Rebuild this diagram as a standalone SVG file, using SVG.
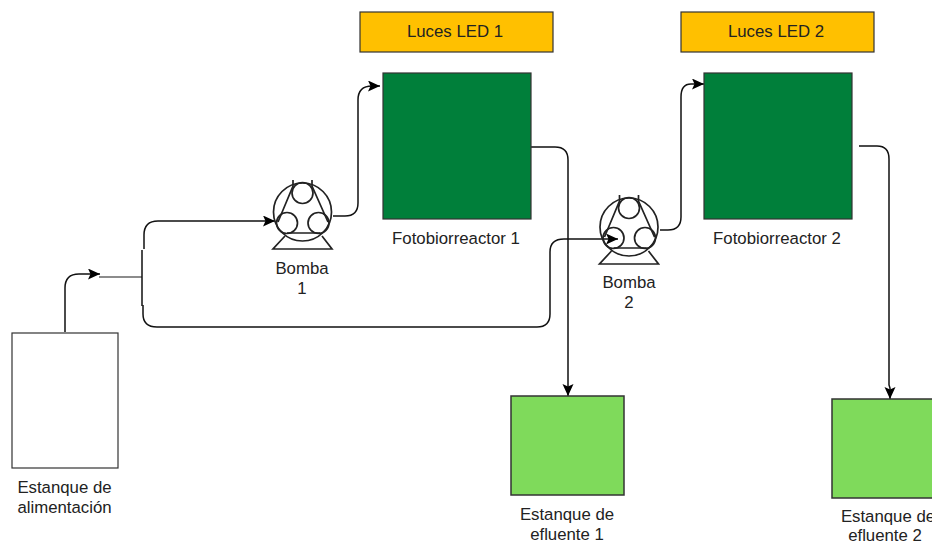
<svg xmlns="http://www.w3.org/2000/svg" width="932" height="545" viewBox="0 0 932 545">
<defs>
<marker id="arr" markerUnits="userSpaceOnUse" markerWidth="15" markerHeight="13" refX="12" refY="5.500" orient="auto"><path d="M0 0L12 5.500L0 11L2.500 5.500Z" fill="#000"/></marker>
<g id="pump" fill="none" stroke="#222" stroke-width="1.7">
<circle cx="302.500" cy="212" r="29"/><circle cx="302.500" cy="193" r="10.500"/><circle cx="287" cy="223" r="10.500"/><circle cx="318.500" cy="223" r="10.500"/>
<path d="M293 180V186L278 222M312 180V186L328 222M287 233H320M285 236L273 249H332L322 236"/>
</g>
</defs>
<style>
text{font-family:"Liberation Sans",Arial,sans-serif;font-size:16.800px;fill:#222;text-anchor:middle}
.c{fill:none;stroke:#111;stroke-width:1.5}
.l{fill:#ffc000;stroke:#333;stroke-width:1.2}
.r{fill:#007f3a;stroke:#333;stroke-width:1.2}
.e{fill:#7fda5b;stroke:#333;stroke-width:1.500}
</style>
<g id="connectors">
<path class="c" marker-end="url(#arr)" d="M65 332V288Q65 274 79 274H100"/>
<path class="c" style="stroke:#666" d="M99 277H142"/>
<path class="c" d="M142 277V250M142 277V306"/>
<path class="c" marker-end="url(#arr)" d="M144 249V235Q144 221 158 221H275"/>
<path class="c" marker-end="url(#arr)" d="M143 305V314Q143 327 157 327H537Q550 327 550 314V252Q550 239 564 239H618"/>
<path class="c" marker-end="url(#arr)" d="M333 216H345Q358 216 358 203V100Q358 86 372 86H380"/>
<path class="c" marker-end="url(#arr)" d="M660 230H668Q681 230 681 217V97Q681 84 691 84H704"/>
<path class="c" marker-end="url(#arr)" d="M531 147H555Q568 147 568 160V396"/>
<path class="c" marker-end="url(#arr)" d="M859 146H877Q889 146 889 159V385L890 388V399"/>
</g>
<g id="tank-feed"><rect x="12" y="333" width="106" height="135" fill="#fff" stroke="#333" stroke-width="1.200"/><text x="64.500" y="493">Estanque de</text><text x="64.500" y="513">alimentación</text></g>
<g id="pump-1"><use href="#pump"/><text x="302" y="274">Bomba</text><text x="302" y="294">1</text></g>
<g id="pump-2"><use href="#pump" x="326.500" y="15"/><text x="629" y="288">Bomba</text><text x="629" y="308">2</text></g>
<g id="led-1"><rect class="l" x="360" y="12" width="193" height="40"/><text x="455" y="37">Luces LED 1</text></g>
<g id="led-2"><rect class="l" x="681" y="12" width="193" height="40"/><text x="776" y="37">Luces LED 2</text></g>
<g id="reactor-1"><rect class="r" x="383" y="73" width="148" height="146"/><text x="456" y="244">Fotobiorreactor 1</text></g>
<g id="reactor-2"><rect class="r" x="704" y="73" width="148" height="146"/><text x="777" y="244">Fotobiorreactor 2</text></g>
<g id="effluent-1"><rect class="e" x="511" y="396" width="113" height="99"/><text x="567" y="520">Estanque de</text><text x="567" y="540">efluente 1</text></g>
<g id="effluent-2"><rect class="e" x="832" y="399" width="113" height="99"/><text x="888" y="522">Estanque de</text><text x="885" y="541">efluente 2</text></g>
</svg>
